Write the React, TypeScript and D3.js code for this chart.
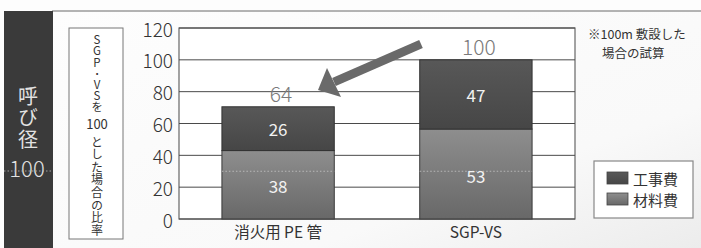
import * as d3 from 'd3';

// categories and stacked values (heights as drawn in the picture)
const categories = ['消火用 PE 管', 'SGP-VS'];
const materialValues = [43, 56.5];
const laborValues = [27.5, 43.5];
// printed labels
const materialLabels = ['38', '53'];
const laborLabels = ['26', '47'];
const totalLabels = ['64', '100'];
const yTicks = [0, 20, 40, 60, 80, 100, 120];
const seriesNames = ['工事費', '材料費'];
const yLabelParts = ['SGP･VSを', '100', 'とした場合の比率'];

const W = 701;
const H = 248;
const FONT = '"Noto Sans CJK JP", "Noto Sans", sans-serif';
const vertical = { writingMode: 'vertical-rl', textOrientation: 'upright' } as React.CSSProperties;

const App = () => {
  const margin = { top: 28, right: 126, bottom: 29, left: 179 };
  const x = d3.scaleBand<string>()
    .domain(categories)
    .range([margin.left, W - margin.right])
    .paddingInner(0.432)
    .paddingOuter(0.217);
  const y = d3.scaleLinear().domain([0, 120]).range([H - margin.bottom, margin.top]);

  const bw = x.bandwidth();

  return (
    <svg width={W} height={H} style={{ position: 'absolute', left: 0, top: 0 }} fontFamily={FONT}>
      <defs>
        <linearGradient id="gLabor" x1="0" y1="0" x2="0" y2="1">
          <stop offset="0" stopColor="#585858" />
          <stop offset="1" stopColor="#464646" />
        </linearGradient>
        <linearGradient id="gMat" x1="0" y1="0" x2="0" y2="1">
          <stop offset="0" stopColor="#8e8e8e" />
          <stop offset="1" stopColor="#686868" />
        </linearGradient>
        <linearGradient id="gBg" x1="0" y1="0" x2="1" y2="1">
          <stop offset="0" stopColor="#fdfdfd" />
          <stop offset="0.7" stopColor="#f9f9f9" />
          <stop offset="1" stopColor="#ececec" />
        </linearGradient>
      </defs>

      <rect x={0} y={0} width={W} height={H} fill="#fdfdfd" />
      <rect x={52} y={11} width={W - 52} height={H - 11} fill="url(#gBg)" />
      <line x1={52} x2={W} y1={11} y2={11} stroke="#9a9a9a" strokeWidth={1.5} />

      {/* left dark panel */}
      <rect x={4} y={11} width={49} height={H - 11} fill="#3a3a3a" />
      <text x={28} y={86} fill="#e2e2e2" fontSize={20} letterSpacing={1.5} style={vertical}>呼び径</text>
      <text x={27} y={167} fill="#e2e2e2" fontSize={22} fontWeight={300}
        textAnchor="middle" dominantBaseline="central">100</text>
      <line x1={4} x2={53} y1={171} y2={171} stroke="#bbb" strokeDasharray="1.5,2" strokeWidth={0.8} />

      {/* y label box */}
      <rect x={69} y={28} width={54} height={211} fill="#fff" stroke="#777" strokeWidth={1} />
      <text x={97} y={34} fill="#333" fontSize={11.5} letterSpacing={-0.3} style={vertical}>{yLabelParts[0]}</text>
      <text x={97} y={123} fill="#333" fontSize={13} textAnchor="middle" dominantBaseline="central">{yLabelParts[1]}</text>
      <text x={97} y={136} fill="#333" fontSize={12} letterSpacing={0.6} style={vertical}>{yLabelParts[2]}</text>

      {/* plot frame and grid */}
      <rect x={margin.left} y={margin.top} width={W - margin.right - margin.left}
        height={H - margin.bottom - margin.top} fill="#fff" stroke="#666" strokeWidth={1.2} />
      {yTicks.map((t) => (
        <g key={t}>
          <line x1={margin.left} x2={W - margin.right} y1={y(t)} y2={y(t)} stroke="#4a4a4a" strokeWidth={1} />
          <text x={173} y={y(t)} fontSize={19} fontWeight={300} fill="#333" textAnchor="end"
            dominantBaseline="central">{t}</text>
        </g>
      ))}

      {/* bars */}
      {categories.map((c, i) => {
        const x0 = x(c) as number;
        const m = materialValues[i];
        const l = laborValues[i];
        return (
          <g key={c}>
            <rect x={x0} y={y(m)} width={bw} height={y(0) - y(m)} fill="url(#gMat)" stroke="#3a3a3a" strokeWidth={1} />
            <rect x={x0} y={y(m + l)} width={bw} height={y(m) - y(m + l)} fill="url(#gLabor)" stroke="#333" strokeWidth={1} />
            <line x1={x0} x2={x0 + bw} y1={y(30)} y2={y(30)} stroke="#c8c8c8" strokeWidth={0.8} strokeDasharray="1.5,2" />
            <text x={x0 + bw / 2} y={y(m / 2) + 1} fill="#f2f2f2" fontSize={17}
              textAnchor="middle" dominantBaseline="central">{materialLabels[i]}</text>
            <text x={x0 + bw / 2} y={y(m + l / 2)} fill="#f2f2f2" fontSize={17}
              textAnchor="middle" dominantBaseline="central">{laborLabels[i]}</text>
            <text x={x0 + bw / 2 + 3} y={y(m + l) - 14} fill="#7a7a7a" fontSize={21} fontWeight={300}
              textAnchor="middle" dominantBaseline="central">{totalLabels[i]}</text>
            <text x={x0 + bw / 2} y={231} fill="#333" fontSize={15.5}
              textAnchor="middle" dominantBaseline="central">{c}</text>
          </g>
        );
      })}

      {/* arrow */}
      <line x1={421} y1={44} x2={334} y2={82} stroke="#6a6a6a" strokeWidth={9} />
      <path d="M318,90 L327,68 L341,97 Z" fill="#6a6a6a" />

      {/* note */}
      <text x={588} y={33} fontSize={12.5} fill="#333" dominantBaseline="central">※100m 敷設した</text>
      <text x={602} y={52} fontSize={12.5} fill="#333" dominantBaseline="central">場合の試算</text>

      {/* legend */}
      <rect x={594} y={161} width={99} height={57} fill="#fff" stroke="#888" strokeWidth={1.2} />
      {seriesNames.map((s, i) => (
        <g key={s}>
          <rect x={607} y={172 + i * 21} width={21} height={12}
            fill={i === 0 ? 'url(#gLabor)' : 'url(#gMat)'} stroke="#444" strokeWidth={0.8} />
          <text x={633} y={178 + i * 21} fontSize={15} fill="#333" dominantBaseline="central">{s}</text>
        </g>
      ))}
    </svg>
  );
};

export default App;
